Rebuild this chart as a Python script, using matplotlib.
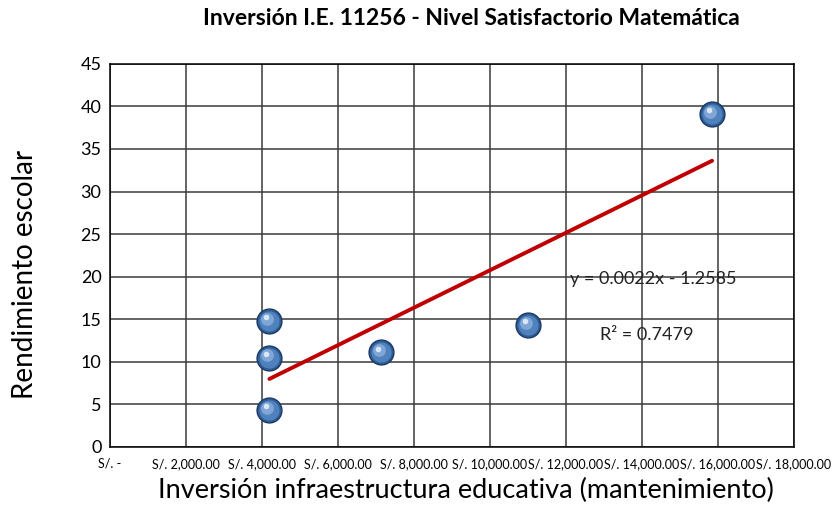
import matplotlib
matplotlib.use("Agg")
import matplotlib.pyplot as plt
import matplotlib.transforms as mtrans
import numpy as np

# Data
inversion = [4200, 4200, 4200, 7150, 11000, 15850]
rendimiento = [14.8, 10.5, 4.3, 11.1, 14.3, 39.1]
x_ticks = [0, 2000, 4000, 6000, 8000, 10000, 12000, 14000, 16000, 18000]
x_tick_labels = ["S/. -", "S/. 2,000.00", "S/. 4,000.00", "S/. 6,000.00", "S/. 8,000.00",
                 "S/. 10,000.00", "S/. 12,000.00", "S/. 14,000.00", "S/. 16,000.00", "S/. 18,000.00"]
y_ticks = [0, 5, 10, 15, 20, 25, 30, 35, 40, 45]
slope = 0.0022
intercept = -1.2585
eq_text = "y = 0.0022x - 1.2585"
r2_text = "R² = 0.7479"
title = "Inversión I.E. 11256 - Nivel Satisfactorio Matemática"
xlabel = "Inversión infraestructura educativa (mantenimiento)"
ylabel = "Rendimiento escolar"

plt.rcParams['font.family'] = ['Lato', 'DejaVu Sans']

fig = plt.figure(figsize=(8.32, 5.32), dpi=100)
ax = fig.add_axes([0.132, 0.16, 0.822, 0.72])

ax.set_xlim(0, 18000)
ax.set_ylim(0, 45)
ax.set_xticks(x_ticks)
ax.set_xticklabels(x_tick_labels, fontsize=9)
ax.set_yticks(y_ticks)
ax.tick_params(axis='y', labelsize=13, length=0, pad=6)
ax.tick_params(axis='x', length=0, pad=8)
ax.grid(True, color='#3a3a3a', linewidth=1.1)
ax.set_axisbelow(True)
for s in ax.spines.values():
    s.set_color('black')
    s.set_linewidth(1.1)

# Trend line
xs = np.array([min(inversion), max(inversion)])
ax.plot(xs, slope * xs + intercept, color='#c00000', linewidth=2.8, zorder=3,
        solid_capstyle='round')

# Sphere-like markers
ax.scatter(inversion, rendimiento, s=320, color='#2f5d96', edgecolors='#1c3a63',
           linewidths=1.0, zorder=4)
ax.scatter(inversion, rendimiento, s=210, color='#4f81bd', linewidths=0, zorder=5)
off = mtrans.offset_copy(ax.transData, fig=fig, x=-1.5, y=1.5, units='points')
ax.scatter(inversion, rendimiento, s=85, color='#7fa6d6', linewidths=0, zorder=6,
           transform=off)
off2 = mtrans.offset_copy(ax.transData, fig=fig, x=-2.2, y=2.8, units='points')
ax.scatter(inversion, rendimiento, s=16, color='#dbe7f5', linewidths=0, zorder=7,
           transform=off2)

ax.text(12100, 19.7, eq_text, fontsize=13, va='center', ha='left', color='#222222', zorder=8)
ax.text(12900, 13.2, r2_text, fontsize=13, va='center', ha='left', color='#222222', zorder=8)

fig.text(0.567, 0.965, title, fontsize=16.5, fontweight='bold', ha='center', va='center')
fig.text(0.56, 0.078, xlabel, fontsize=19.5, ha='center', va='center')
fig.text(0.03, 0.485, ylabel, fontsize=20, ha='center', va='center', rotation=90)

fig.savefig("out.png", dpi=100)
